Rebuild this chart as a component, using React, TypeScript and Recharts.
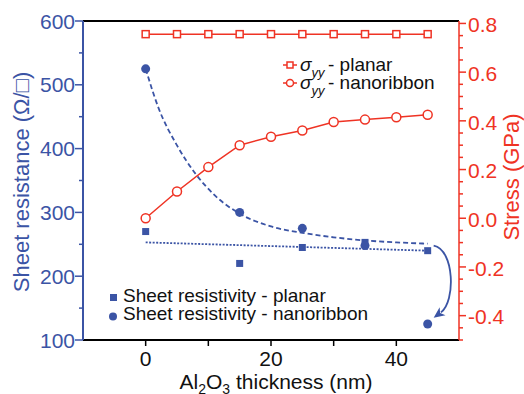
import React from 'react';
import { ComposedChart, Line, Scatter, XAxis, YAxis, ReferenceLine, ReferenceDot } from 'recharts';

// sheet resistance (left axis, ohm/sq)
const resX = [0, 15, 25, 35, 45];
const resPlanar = [270, 220, 245, 253, 240];
const resNano = [525, 300, 275, 248, 125];

// fitted guides drawn through the resistance points
const fitNanoX = [0, 2, 5, 8, 11, 15, 20, 25, 30, 35, 40, 45];
const fitNano = [525, 465, 405, 360, 327, 298, 278, 268, 261, 256, 253, 251];
const fitPlanarX = [0, 45];
const fitPlanar = [253, 240];

// stress sigma_yy (right axis, GPa)
const stressX = [0, 5, 10, 15, 20, 25, 30, 35, 40, 45];
const stressPlanar = [0.756, 0.756, 0.756, 0.756, 0.756, 0.756, 0.756, 0.756, 0.756, 0.756];
const stressNano = [0.0, 0.11, 0.21, 0.3, 0.335, 0.36, 0.395, 0.405, 0.415, 0.425];

// ticks
const xTicks = [0, 10, 20, 30, 40];
const leftTicks = [100, 150, 200, 250, 300, 350, 400, 450, 500, 550, 600];
const rightTicks = [-0.5, -0.45, -0.4, -0.35, -0.3, -0.25, -0.2, -0.15, -0.1, -0.05, 0, 0.05, 0.1, 0.15, 0.2,
    0.25, 0.3, 0.35, 0.4, 0.45, 0.5, 0.55, 0.6, 0.65, 0.7, 0.75, 0.8];

const BLUE = '#3b54a5';
const RED = '#ef3324';
const FONT = '"Liberation Sans", Arial, sans-serif';

const pts = (xs: number[], ys: number[]) => xs.map((x, i) => ({ x, y: ys[i] }));

const LeftTick = ({ x, y, payload }: any) => {
    const v = payload.value;
    const major = v % 100 === 0;
    return (
        <g>
            <line x1={x} x2={x - (major ? 8 : 4)} y1={y} y2={y} stroke={BLUE} strokeWidth={1.5} />
            {major && (
                <text x={x - 8} y={y} dy="0.36em" textAnchor="end" fill={BLUE} fontSize={21} fontFamily={FONT}>{v}</text>
            )}
        </g>
    );
};

const RightTick = ({ x, y, payload }: any) => {
    const v = payload.value;
    const major = Math.abs(v * 5 - Math.round(v * 5)) < 1e-6 && v > -0.45;
    return (
        <g>
            <line x1={x} x2={x + (major ? 7 : 4)} y1={y} y2={y} stroke={RED} strokeWidth={1.5} />
            {major && (
                <text x={x + 9} y={y} dy="0.42em" textAnchor="start" fill={RED} fontSize={21} fontFamily={FONT}>{v.toFixed(1)}</text>
            )}
        </g>
    );
};

const BottomTick = ({ x, y, payload }: any) => {
    const v = payload.value;
    return (
        <g>
            <line x1={x} x2={x} y1={y} y2={y + 6} stroke="#000" strokeWidth={1.5} />
            {v % 20 === 0 && (
                <text x={x} y={y + 26} textAnchor="middle" fill="#111" fontSize={21} fontFamily={FONT}>{v}</text>
            )}
        </g>
    );
};

const squareDot = (props: any) => (
    <rect key={`sq-${props.index}`} x={props.cx - 3.5} y={props.cy - 3.5} width={7} height={7} fill="#fff" stroke={RED} strokeWidth={1.5} />
);
const circleDot = (props: any) => (
    <circle key={`ci-${props.index}`} cx={props.cx} cy={props.cy} r={4.5} fill="#fff" stroke={RED} strokeWidth={1.5} />
);

const Arrow = ({ cx, cy }: any) => {
    const p0 = [cx + 6, cy + 2];
    const c1 = [cx + 27, cy + 6];
    const c2 = [cx + 28, cy + 58];
    const tip = [cx + 6, cy + 74];
    const ang = Math.atan2(tip[1] - c2[1], tip[0] - c2[0]);
    const len = 11, hw = 5;
    const bx = tip[0] - len * Math.cos(ang), by = tip[1] - len * Math.sin(ang);
    const nx = -Math.sin(ang) * hw, ny = Math.cos(ang) * hw;
    return (
        <g>
            <path d={`M${p0[0]},${p0[1]} C${c1[0]},${c1[1]} ${c2[0]},${c2[1]} ${bx + 2 * Math.cos(ang)},${by + 2 * Math.sin(ang)}`}
                fill="none" stroke={BLUE} strokeWidth={1.8} />
            <path d={`M${tip[0]},${tip[1]} L${bx + nx},${by + ny} L${bx + 3 * Math.cos(ang)},${by + 3 * Math.sin(ang)} L${bx - nx},${by - ny} Z`} fill={BLUE} />
        </g>
    );
};

export default function App() {
    return (
        <div style={{ position: 'absolute', left: 0, top: 0, width: 524, height: 394, background: '#fff', fontFamily: FONT }}>
            <ComposedChart width={524} height={394} margin={{ top: 21, right: 0, bottom: 0, left: 0 }}>
                <XAxis dataKey="x" type="number" domain={[-10, 50]} ticks={xTicks} interval={0} height={54}
                    tickSize={0} tickMargin={0} tick={<BottomTick />} axisLine={{ stroke: '#000', strokeWidth: 2 }} tickLine={false} />
                <YAxis yAxisId="left" dataKey="y" type="number" domain={[100, 600]} ticks={leftTicks} interval={0} width={83}
                    tickSize={0} tickMargin={0} tick={<LeftTick />} axisLine={{ stroke: BLUE, strokeWidth: 2 }} tickLine={false} />
                <YAxis yAxisId="right" orientation="right" dataKey="y" type="number" domain={[-0.5, 0.81]} ticks={rightTicks} interval={0} width={65}
                    tickSize={0} tickMargin={0} tick={<RightTick />} axisLine={{ stroke: RED, strokeWidth: 1.5 }} tickLine={false} allowDataOverflow />
                <ReferenceLine yAxisId="left" y={600} stroke="#000" strokeWidth={2} />

                <Line yAxisId="left" data={pts(fitNanoX, fitNano)} dataKey="y" type="monotone" stroke={BLUE} strokeWidth={1.8}
                    strokeDasharray="5 3" dot={false} isAnimationActive={false} />
                <Line yAxisId="left" data={pts(fitPlanarX, fitPlanar)} dataKey="y" type="linear" stroke={BLUE} strokeWidth={1.8}
                    strokeDasharray="2 1.5" dot={false} isAnimationActive={false} />

                <Line yAxisId="right" data={pts(stressX, stressPlanar)} dataKey="y" stroke={RED} strokeWidth={1.5}
                    dot={squareDot} isAnimationActive={false} />
                <Line yAxisId="right" data={pts(stressX, stressNano)} dataKey="y" stroke={RED} strokeWidth={1.5}
                    dot={circleDot} isAnimationActive={false} />

                <Scatter yAxisId="left" data={pts(resX, resPlanar)} fill={BLUE} isAnimationActive={false}
                    shape={(p: any) => <rect x={p.cx - 3.5} y={p.cy - 3.5} width={7} height={7} fill={BLUE} />} />
                <Scatter yAxisId="left" data={pts(resX, resNano)} fill={BLUE} isAnimationActive={false}
                    shape={(p: any) => <circle cx={p.cx} cy={p.cy} r={4.5} fill={BLUE} />} />

                <ReferenceDot yAxisId="left" x={45} y={fitNano[fitNano.length - 1]} shape={<Arrow />} />
            </ComposedChart>

            <svg width={524} height={394} style={{ position: 'absolute', left: 0, top: 0, pointerEvents: 'none' }} fontFamily={FONT}>
                {/* axis titles */}
                <text transform="translate(29,182) rotate(-90)" textAnchor="middle" fill={BLUE} fontSize={22}>Sheet resistance (Ω/□)</text>
                <text transform="translate(519,177) rotate(-90)" textAnchor="middle" fill={RED} fontSize={22}>Stress (GPa)</text>
                <text x={276} y={389} textAnchor="middle" fill="#111" fontSize={21}>
                    Al<tspan fontSize={14} dy={5}>2</tspan><tspan dy={-5}>O</tspan><tspan fontSize={14} dy={5}>3</tspan><tspan dy={-5}> thickness (nm)</tspan>
                </text>

                {/* stress legend */}
                <line x1={283} x2={297} y1={65} y2={65} stroke={RED} strokeWidth={1.5} />
                <rect x={287} y={62} width={6} height={6} fill="#fff" stroke={RED} strokeWidth={1.5} />
                <text x={300} y={71} fontSize={19} fill="#111">
                    <tspan fontStyle="italic">σ</tspan><tspan fontStyle="italic" fontSize={13} dy={6}>yy</tspan>
                    <tspan x={328} dy={-6}>- planar</tspan>
                </text>
                <line x1={283} x2={297} y1={83} y2={83} stroke={RED} strokeWidth={1.5} />
                <circle cx={290} cy={83} r={3.5} fill="#fff" stroke={RED} strokeWidth={1.5} />
                <text x={300} y={89} fontSize={19} fill="#111">
                    <tspan fontStyle="italic">σ</tspan><tspan fontStyle="italic" fontSize={13} dy={6}>yy</tspan>
                    <tspan x={328} dy={-6}>- nanoribbon</tspan>
                </text>

                {/* resistivity legend */}
                <rect x={110} y={294} width={7} height={7} fill={BLUE} />
                <text x={123} y={302} fontSize={19} fill="#111">Sheet resistivity - planar</text>
                <circle cx={113} cy={316.5} r={4} fill={BLUE} />
                <text x={123} y={319.5} fontSize={19} fill="#111">Sheet resistivity - nanoribbon</text>
            </svg>
        </div>
    );
}
